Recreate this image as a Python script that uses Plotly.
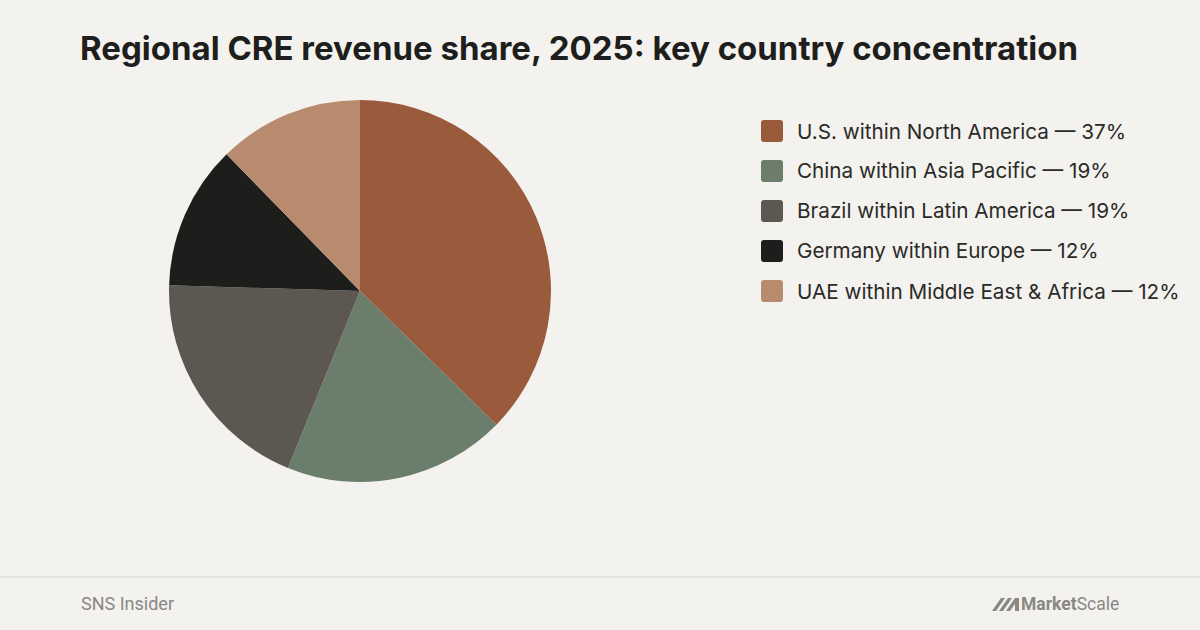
import plotly.graph_objects as go

# ---- data ----
countries = ["U.S.", "China", "Brazil", "Germany", "UAE"]
regions = ["North America", "Asia Pacific", "Latin America", "Europe", "Middle East & Africa"]
shares = [37.3, 18.8, 19.3, 12.2, 12.3]          # slice values
share_labels = [37, 19, 19, 12, 12]               # rounded % shown in legend
colors = ["#9A5A3C", "#6B7D6B", "#5C5750", "#1D1D1B", "#B88B6E"]

W, H = 1200, 630
BG = "#F4F2EE"
GREY = "#8A8885"

labels = [f"{c} within {r} — {s}%" for c, r, s in zip(countries, regions, share_labels)]

def px(x):
    return x / W

def py(y):
    return 1 - y / H

fig = go.Figure()
fig.add_trace(go.Pie(
    labels=labels,
    values=shares,
    marker=dict(colors=colors, line=dict(width=0)),
    sort=False,
    direction="clockwise",
    rotation=0,
    textinfo="none",
    hoverinfo="label",
    showlegend=False,
    domain=dict(x=[px(169), px(551)], y=[py(482), py(100)]),
))

shapes = []
annotations = []

# custom legend (rounded swatches)
leg_x0, leg_y0, leg_gap, sw, rr = 761, 131, 40, 22, 3
for i, (lab, col) in enumerate(zip(labels, colors)):
    cy = leg_y0 + i * leg_gap
    x0, x1 = leg_x0, leg_x0 + sw
    y0, y1 = cy - sw / 2, cy + sw / 2
    path = (f"M {px(x0+rr)} {py(y0)} L {px(x1-rr)} {py(y0)} "
            f"Q {px(x1)} {py(y0)} {px(x1)} {py(y0+rr)} L {px(x1)} {py(y1-rr)} "
            f"Q {px(x1)} {py(y1)} {px(x1-rr)} {py(y1)} L {px(x0+rr)} {py(y1)} "
            f"Q {px(x0)} {py(y1)} {px(x0)} {py(y1-rr)} L {px(x0)} {py(y0+rr)} "
            f"Q {px(x0)} {py(y0)} {px(x0+rr)} {py(y0)} Z")
    shapes.append(dict(type="path", xref="paper", yref="paper", path=path,
                       fillcolor=col, line=dict(width=0), layer="above"))
    annotations.append(dict(text=lab, xref="paper", yref="paper",
                            x=px(795), y=py(cy), xanchor="left", yanchor="middle",
                            showarrow=False,
                            font=dict(family="Inter", size=20.7, color="#2A2A28")))

# title
annotations.append(dict(text="<b>Regional CRE revenue share, 2025: key country concentration</b>",
                        xref="paper", yref="paper", x=px(78), y=py(48),
                        xanchor="left", yanchor="middle", showarrow=False,
                        font=dict(family="Inter", size=33, color="#1E1E1C")))

# footer line
shapes.append(dict(type="line", xref="paper", yref="paper",
                   x0=0, x1=1, y0=py(577), y1=py(577),
                   line=dict(color="#E4E2DE", width=2)))

annotations.append(dict(text="SNS Insider", xref="paper", yref="paper",
                        x=px(79), y=py(603), xanchor="left", yanchor="middle",
                        showarrow=False,
                        font=dict(family="Roboto", size=18, color=GREY)))

annotations.append(dict(text="<b>Market</b>Scale", xref="paper", yref="paper",
                        x=px(1121), y=py(604), xanchor="right", yanchor="middle",
                        showarrow=False,
                        font=dict(family="Roboto", size=17.5, color=GREY)))
# logo mark (slanted bars)
for x0 in (992, 999, 1006):
    shapes.append(dict(type="path", xref="paper", yref="paper",
                       path=f"M {px(x0)} {py(611)} L {px(x0+9)} {py(598)} L {px(x0+13)} {py(598)} L {px(x0+4)} {py(611)} Z",
                       fillcolor=GREY, line=dict(width=0)))
shapes.append(dict(type="rect", xref="paper", yref="paper",
                   x0=px(1015), x1=px(1019), y0=py(611), y1=py(598),
                   fillcolor=GREY, line=dict(width=0)))

fig.update_layout(
    width=W, height=H,
    margin=dict(l=0, r=0, t=0, b=0),
    paper_bgcolor=BG, plot_bgcolor=BG,
    shapes=shapes, annotations=annotations,
)

fig.write_html("out.html",
               config={"displayModeBar": False},
               post_script="document.body.style.margin='0';document.body.style.overflow='hidden';")
